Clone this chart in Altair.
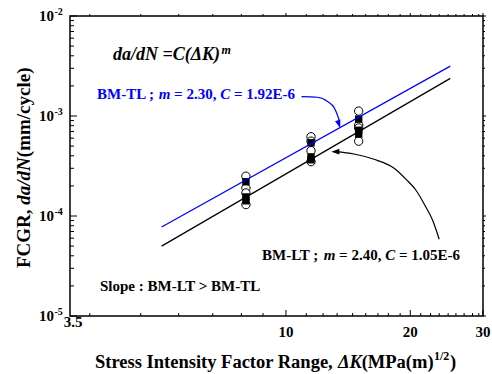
import altair as alt
import pandas as pd

# Paris-law fits, da/dN = C (dK)^m, for the two specimen orientations
M_TL, C_TL = 2.30, 1.92e-6
M_LT, C_LT = 2.40, 1.05e-6
fit_dk = [5.0, 25.0]  # dK range covered by the fitted lines

# measured growth rates (open circles) and representative rates (filled squares)
open_dk = [8, 8, 8, 8, 11.5, 11.5, 11.5, 11.5, 15, 15, 15, 15]
open_rate = [2.5e-4, 1.9e-4, 1.7e-4, 1.3e-4,
             6.2e-4, 5.6e-4, 4.5e-4, 3.5e-4,
             1.12e-3, 8.1e-4, 7.6e-4, 5.6e-4]
solid_dk = [8, 8, 8, 11.5, 11.5, 11.5, 15, 15, 15]
solid_rate = [2.2e-4, 1.55e-4, 1.42e-4,
              5.4e-4, 3.9e-4, 3.65e-4,
              9.3e-4, 7.2e-4, 6.6e-4]

# axis ticks
x_major = [10, 20, 30]
x_major_text = ["10", "20", "30"]
x_minor = [3.35, 4.45, 5.5, 6.65, 7.8, 8.8, 11.2, 12.3, 13.3, 14.5, 15.6,
           16.7, 17.7, 18.9, 21.2, 22.4, 23.5, 24.7, 25.8, 27.0, 28.3, 29.3]
y_major = [1e-2, 1e-3, 1e-4, 1e-5]
y_exp = ["-2", "-3", "-4", "-5"]
y_minor = [k * 10.0 ** e for e in (-5, -4, -3) for k in range(2, 10)]

# annotation leader curves (dK, da/dN)
tl_arrow_dk = [10.91, 11.91, 12.64, 13.07, 13.37, 13.49]
tl_arrow_rate = [1.56e-3, 1.54e-3, 1.39e-3, 1.22e-3, 9.84e-4, 8.71e-4]
tl_tip = (13.53, 7.59e-4)
lt_arrow_dk = [13.2, 14.61, 16.34, 18.28, 19.51, 20.63, 21.81, 22.64, 23.50]
lt_arrow_rate = [4.40e-4, 4.17e-4, 3.69e-4, 3.00e-4, 2.34e-4, 1.82e-4, 1.23e-4, 9.12e-5, 5.85e-5]
lt_tip = (12.88, 4.40e-4)

W, H = 413, 300
FONT = "Liberation Serif"
BLUE = "#0000ff"

XS = alt.Scale(type="log", domain=[3, 30])
YS = alt.Scale(type="log", domain=[1e-5, 1e-2])


def X(field="dk"):
    return alt.X(f"{field}:Q", scale=XS, axis=None)


def Y(field="rate"):
    return alt.Y(f"{field}:Q", scale=YS, axis=None)


def paris(c, m, k):
    return c * k ** m


fit_df = pd.DataFrame({
    "dk": fit_dk * 2,
    "rate": [paris(C_TL, M_TL, k) for k in fit_dk] + [paris(C_LT, M_LT, k) for k in fit_dk],
    "series": ["BM-TL"] * 2 + ["BM-LT"] * 2,
})

open_df = pd.DataFrame({"dk": open_dk, "rate": open_rate})
solid_df = pd.DataFrame({"dk": solid_dk, "rate": solid_rate})

circles = alt.Chart(open_df).mark_point(
    shape="circle", filled=True, fill="white", stroke="black", strokeWidth=1, size=70, opacity=1
).encode(x=X(), y=Y())

squares = alt.Chart(solid_df).mark_square(color="black", size=55, opacity=1).encode(x=X(), y=Y())

fits = alt.Chart(fit_df).mark_line(strokeWidth=1.2).encode(
    x=X(), y=Y(),
    color=alt.Color("series:N", scale=alt.Scale(domain=["BM-TL", "BM-LT"], range=[BLUE, "black"]), legend=None),
    detail="series:N",
)

tl_arrow = alt.Chart(pd.DataFrame({"dk": tl_arrow_dk, "rate": tl_arrow_rate})).mark_line(
    color=BLUE, strokeWidth=1.2, interpolate="monotone"
).encode(x=X(), y=Y())
lt_arrow = alt.Chart(pd.DataFrame({"dk": lt_arrow_dk, "rate": lt_arrow_rate})).mark_line(
    color="black", strokeWidth=1.2, interpolate="monotone"
).encode(x=X(), y=Y())

tl_head = alt.Chart(pd.DataFrame({"dk": [tl_tip[0]], "rate": [tl_tip[1]]})).mark_point(
    shape="M0,0L-0.7,-2L0.7,-2Z", filled=True, color=BLUE, size=64, angle=342, opacity=1
).encode(x=X(), y=Y())
lt_head = alt.Chart(pd.DataFrame({"dk": [lt_tip[0]], "rate": [lt_tip[1]]})).mark_point(
    shape="M0,0L2,-0.7L2,0.7Z", filled=True, color="black", size=64, opacity=1
).encode(x=X(), y=Y())

# frame ticks: bottom/left point inward, top/right point outward
xt_major = pd.DataFrame({"dk": x_major, "label": x_major_text})
xt_minor = pd.DataFrame({"dk": x_minor})
yt_major = pd.DataFrame({"rate": y_major, "exp": y_exp})
yt_minor = pd.DataFrame({"rate": y_minor})


def xticks(df, y0, y1):
    return alt.Chart(df).mark_rule(color="black", strokeWidth=1).encode(
        x=X(), y=alt.value(y0), y2=alt.value(y1))


def yticks(df, x0, x1):
    return alt.Chart(df).mark_rule(color="black", strokeWidth=1).encode(
        y=Y(), x=alt.value(x0), x2=alt.value(x1))


ticks = [
    xticks(xt_major, H, H - 6), xticks(xt_minor, H, H - 3),
    xticks(xt_major, 0, -3), xticks(xt_minor, 0, -2),
    yticks(yt_major, 0, 7), yticks(yt_minor, 0, 4),
    yticks(yt_major, W, W + 3), yticks(yt_minor, W, W + 2),
]

tick_style = dict(font=FONT, fontWeight="bold", color="black")

x_labels = alt.Chart(xt_major).mark_text(fontSize=15, align="center", baseline="alphabetic", **tick_style).encode(
    x=X(), y=alt.value(320.7), text="label:N")
x_start_label = alt.Chart(pd.DataFrame({"dk": [3], "label": ["3.5"]})).mark_text(
    fontSize=15, align="center", baseline="alphabetic", dx=3, **tick_style
).encode(x=X(), y=alt.value(311), text="label:N")

y_base = alt.Chart(yt_major).mark_text(fontSize=15, align="right", baseline="alphabetic", dy=5, **tick_style).encode(
    y=Y(), x=alt.value(-16), text=alt.value("10"))
y_sup = alt.Chart(yt_major).mark_text(fontSize=10, align="left", baseline="alphabetic", dy=-1, **tick_style).encode(
    y=Y(), x=alt.value(-15.5), text="exp:N")


def label(text, x, y, size, color="black", style="normal", angle=0, dx=0):
    kw = dict(font=FONT, fontWeight="bold", fontStyle=style, fontSize=size, color=color,
              align="left", baseline="alphabetic", dx=dx)
    if angle:
        kw["angle"] = angle
    return alt.Chart(pd.DataFrame({"t": [text]})).mark_text(**kw).encode(
        x=alt.value(x), y=alt.value(y), text="t:N")


texts = [
    # equation
    label("da/dN =C(\u0394K)", 43, 44, 18, style="italic"),
    label("m", 151.5, 38, 12, style="italic"),
    # BM-TL fit
    label("BM-TL ;", 27, 83.3, 15, color=BLUE),
    label("m", 27, 83.3, 15, color=BLUE, style="italic", dx=61.7),
    label("= 2.30,", 27, 83.3, 15, color=BLUE, dx=77.1),
    label("C", 27, 83.3, 15, color=BLUE, style="italic", dx=123.2),
    label("= 1.92E-6", 27, 83.3, 15, color=BLUE, dx=137.0),
    # BM-LT fit
    label("BM-LT ;", 192, 244, 15),
    label("m", 192, 244, 15, style="italic", dx=61.7),
    label("= 2.40,", 192, 244, 15, dx=77.1),
    label("C", 192, 244, 15, style="italic", dx=123.2),
    label("= 1.05E-6", 192, 244, 15, dx=137.0),
    # slope comparison
    label("Slope : BM-LT > BM-TL", 30, 275, 15),
    # x title
    label("Stress Intensity Factor Range,", 25, 352, 18.5),
    label("\u0394K", 25, 352, 18.5, style="italic", dx=243.0),
    label("(MPa(m)", 25, 352, 18.5, dx=266.7),
    label("1/2", 25, 344, 12, dx=339.0),
    label(")", 25, 352, 18.5, dx=355.0),
    # y title
    label("FCGR,", -40.5, 252, 19, angle=270),
    label("da/dN", -40.5, 252, 19, style="italic", angle=270, dx=63.3),
    label("(mm/cycle)", -40.5, 252, 19, angle=270, dx=110.8),
]

chart = alt.layer(
    *ticks, circles, squares, fits, tl_arrow, lt_arrow, tl_head, lt_head,
    x_labels, x_start_label, y_base, y_sup, *texts
).resolve_scale(color="independent").properties(
    width=W, height=H,
    padding={"left": 70, "top": 16, "right": 9, "bottom": 58},
    autosize=alt.AutoSizeParams(type="none"),
    background="white",
).configure_view(stroke="black", strokeWidth=1.5)

chart.save("out.html", embed_options={"renderer": "svg", "actions": False})
